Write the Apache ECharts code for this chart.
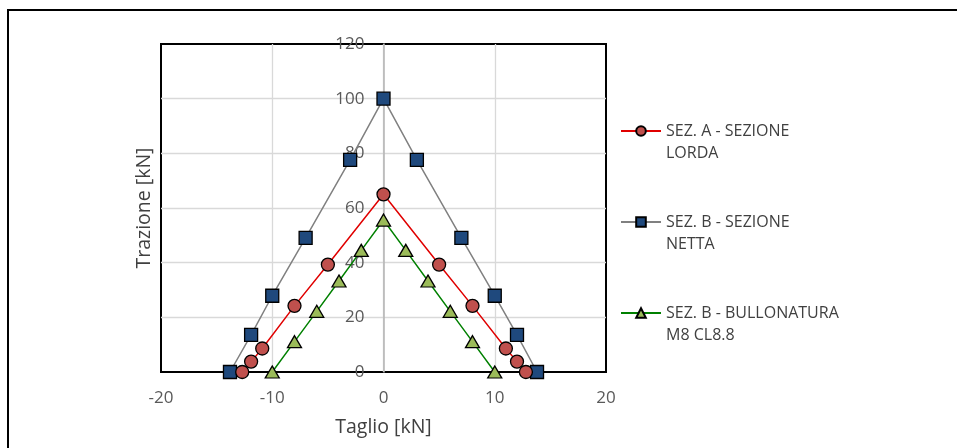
<!DOCTYPE html>
<html>
<head>
<meta charset="utf-8">
<script src="https://cdn.jsdelivr.net/npm/echarts@6/dist/echarts.min.js"></script>
<style>
html,body{margin:0;padding:0;background:#fff;}
#chart{width:957px;height:448px;}
</style>
</head>
<body>
<div id="chart"></div>
<script>
// Data
const seriesNames = ['SEZ. A - SEZIONE LORDA', 'SEZ. B - SEZIONE NETTA', 'SEZ. B - BULLONATURA M8 CL8.8'];
const legendLines = [['SEZ. A - SEZIONE', 'LORDA'], ['SEZ. B - SEZIONE', 'NETTA'], ['SEZ. B - BULLONATURA', 'M8 CL8.8']];

const lordaX = [-12.7, -11.9, -10.9, -8.0, -5.0, 0, 5.0, 8.0, 11.0, 12.0, 12.8];
const lordaY = [0, 3.8, 8.6, 24.2, 39.3, 65.0, 39.3, 24.2, 8.6, 3.8, 0];

const nettaX = [-13.8, -11.9, -10.0, -7.0, -3.0, 0, 3.0, 7.0, 10.0, 12.0, 13.8];
const nettaY = [0, 13.6, 27.9, 49.1, 77.6, 100.0, 77.6, 49.1, 27.9, 13.6, 0];

const bulloniX = [-10.0, -8.0, -6.0, -4.0, -2.0, 0, 2.0, 4.0, 6.0, 8.0, 10.0];
const bulloniY = [0, 11.1, 22.2, 33.3, 44.5, 55.6, 44.5, 33.3, 22.2, 11.1, 0];

const xTitle = 'Taglio [kN]';
const yTitle = 'Trazione [kN]';

function pairs(xs, ys) { return xs.map((x, i) => [x, ys[i]]); }

const FONT = 'Open Sans';
const GRID_LEFT = 161, GRID_RIGHT = 351, CHART_W = 957;
const plotW = CHART_W - GRID_LEFT - GRID_RIGHT;
const chart = echarts.init(document.getElementById('chart'), null, {renderer: 'canvas'});

chart.setOption({
  animation: false,
  backgroundColor: '#fff',
  textStyle: {fontFamily: FONT},
  graphic: [{
    type: 'rect', silent: true, z: 100,
    shape: {x: 8, y: 10, width: 1200, height: 800},
    style: {fill: 'none', stroke: '#000', lineWidth: 2}
  }],
  grid: {
    left: GRID_LEFT, right: GRID_RIGHT, top: 44, bottom: 76,
    show: true, borderColor: '#000', borderWidth: 2, backgroundColor: 'transparent'
  },
  legend: {
    orient: 'vertical', left: 620, top: 98, padding: 0,
    itemWidth: 40, itemHeight: 12, itemGap: 25,
    data: seriesNames,
    formatter: function (name) { return ' \n' + legendLines[seriesNames.indexOf(name)].join('\n'); },
    textStyle: {fontFamily: FONT, fontSize: 16, color: '#404040', lineHeight: 22}
  },
  xAxis: {
    type: 'value', min: -20, max: 20, interval: 10,
    name: xTitle, nameLocation: 'middle', nameGap: 45,
    nameTextStyle: {fontFamily: FONT, fontSize: 19.5, color: '#404040'},
    axisLine: {show: false, onZero: false},
    axisTick: {show: false},
    axisLabel: {margin: 18, fontSize: 17, color: '#595959', fontFamily: FONT},
    splitLine: {show: true, showMinLine: false, showMaxLine: false, lineStyle: {color: '#d9d9d9', width: 1.3}}
  },
  yAxis: [{
    type: 'value', min: 0, max: 120, interval: 20, position: 'left',
    offset: -plotW / 2,
    axisLine: {show: true, onZero: false, lineStyle: {color: '#b3b3b3', width: 1.5}},
    axisTick: {show: false},
    axisLabel: {margin: 19, fontSize: 17, color: '#595959', fontFamily: FONT},
    splitLine: {show: true, showMinLine: false, showMaxLine: false, lineStyle: {color: '#d9d9d9', width: 1.3}}
  }, {
    type: 'value', min: 0, max: 120, interval: 20, position: 'left',
    name: yTitle, nameLocation: 'middle', nameGap: 7,
    nameTextStyle: {fontFamily: FONT, fontSize: 19.5, color: '#404040'},
    axisLine: {show: false, onZero: false},
    axisTick: {show: false},
    axisLabel: {show: false},
    splitLine: {show: false}
  }],
  series: [{
    name: seriesNames[1], type: 'line', data: pairs(nettaX, nettaY),
    symbol: 'rect', symbolSize: 13,
    lineStyle: {color: '#808080', width: 1.5},
    itemStyle: {color: '#1f497d', borderColor: '#000', borderWidth: 1.3}
  }, {
    name: seriesNames[0], type: 'line', data: pairs(lordaX, lordaY),
    symbol: 'circle', symbolSize: 13,
    lineStyle: {color: '#e00000', width: 1.5},
    itemStyle: {color: '#c0504d', borderColor: '#000', borderWidth: 1.3}
  }, {
    name: seriesNames[2], type: 'line', data: pairs(bulloniX, bulloniY),
    symbol: 'triangle', symbolSize: [14, 12],
    lineStyle: {color: '#008000', width: 1.5},
    itemStyle: {color: '#9bbb59', borderColor: '#000', borderWidth: 1.3}
  }]
});
</script>
</body>
</html>
